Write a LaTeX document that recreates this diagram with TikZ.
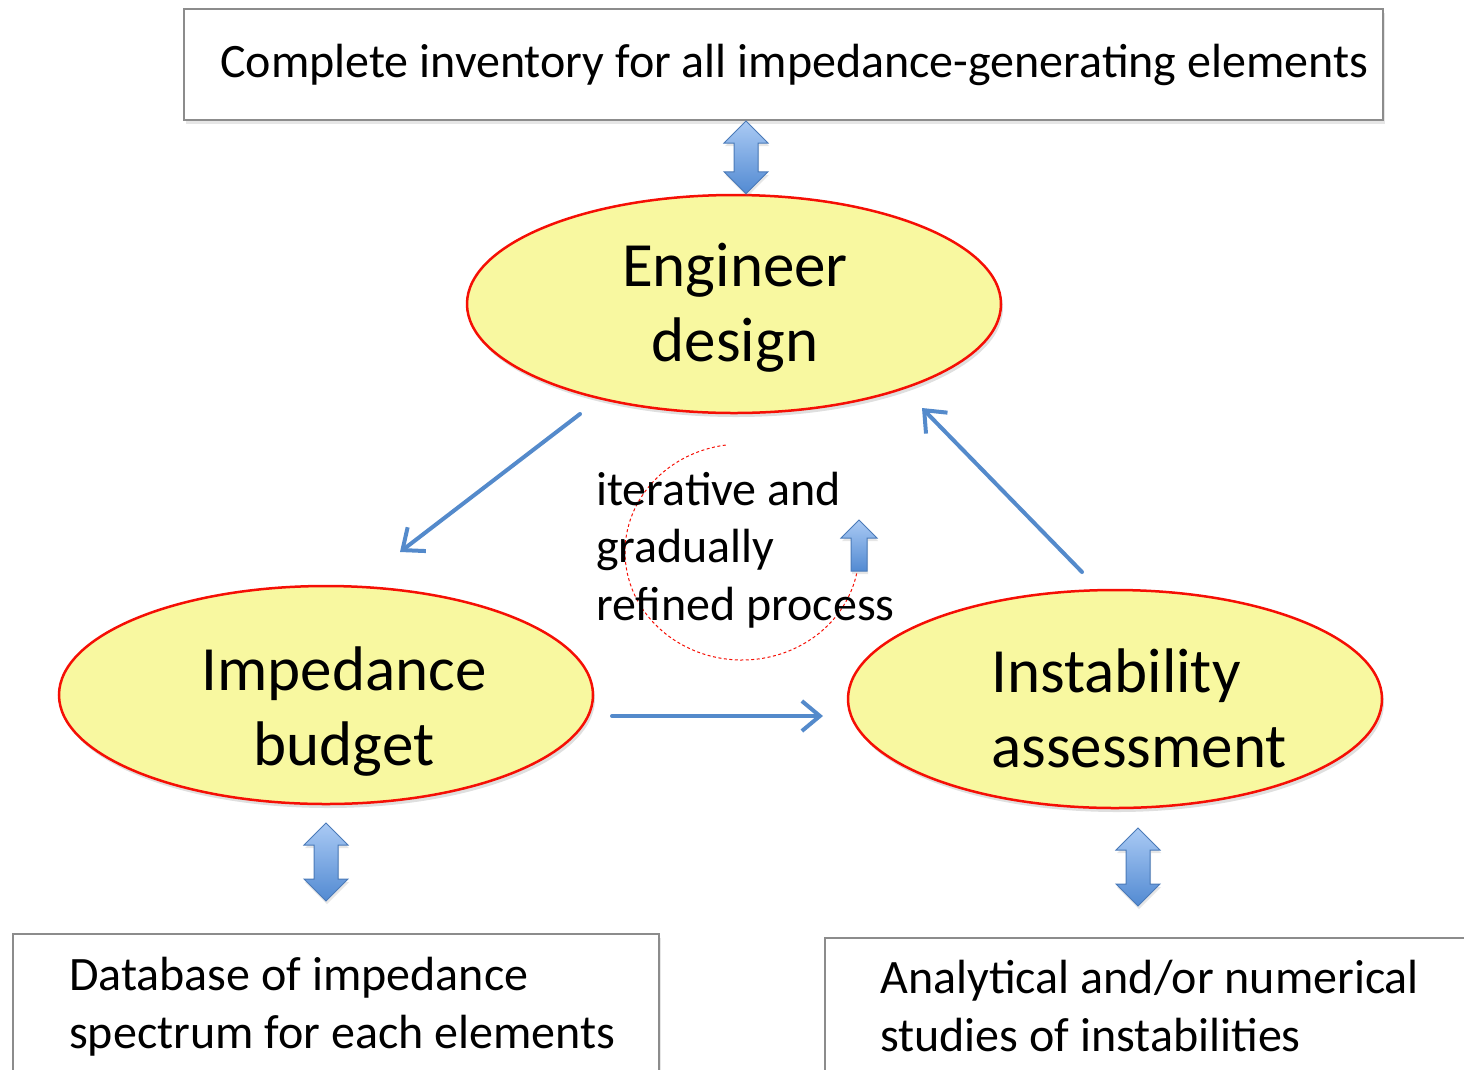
\documentclass[tikz,border=0pt]{standalone}
\usepackage{fontspec}
\setmainfont{Carlito}
\usetikzlibrary{calc,shadows,arrows.meta,shapes.geometric}
\definecolor{ellfill}{RGB}{248,248,160}
\definecolor{ellline}{RGB}{245,15,5}
\definecolor{boxline}{RGB}{140,140,140}
\definecolor{thinblue}{RGB}{84,138,203}
\definecolor{blktop}{RGB}{170,202,244}
\definecolor{blkbot}{RGB}{82,138,210}
\definecolor{blkline}{RGB}{74,122,184}
\newcommand\blkdbl[2]{%
  \draw[blk] let \p1=(#1), \p2=(#2) in
    (\x1,\y1) -- (\x1+22pt,\y1-22pt) -- (\x1+12pt,\y1-22pt) -- (\x1+12pt,\y2+22pt)
    -- (\x1+22pt,\y2+22pt) -- (\x1,\y2) -- (\x1-22pt,\y2+22pt) -- (\x1-12pt,\y2+22pt)
    -- (\x1-12pt,\y1-22pt) -- (\x1-22pt,\y1-22pt) -- cycle;}
\begin{document}
\begin{tikzpicture}[x=1pt,y=-1pt,
  ell/.style={ellipse,draw=ellline,line width=2.5pt,fill=ellfill,
    drop shadow={shadow xshift=2pt,shadow yshift=-4pt,opacity=.25},
    minimum width=534pt,minimum height=218pt,inner sep=0pt},
  rbox/.style={rectangle,draw=boxline,line width=2pt,fill=white,
    drop shadow={shadow xshift=2pt,shadow yshift=-4pt,opacity=.2},
    inner sep=0pt,anchor=north west},
  bigtxt/.style={font=\fontsize{63}{75}\selectfont,inner sep=0pt},
  midtxt/.style={font=\fontsize{48}{57.5}\selectfont,inner sep=0pt,align=left},
  thin/.style={draw=thinblue,line width=4pt,line cap=round,
    -{Straight Barb[length=18pt,width=30pt,line width=4pt]}},
  blk/.style={top color=blktop,bottom color=blkbot,draw=blkline,line width=1pt,
    drop shadow={shadow xshift=1pt,shadow yshift=-3pt,opacity=.2}},
]
\useasboundingbox (0,0) rectangle (1464,1069);

% boxes (anchor base = baseline of the last line)
\node[rbox,minimum width=1199pt,minimum height=111pt] (top) at (183,8) {};
\node[midtxt,anchor=base west] (toptxt) at (220,77) {Complete inventory for all impedance-generating elements};

\node[rbox,minimum width=646pt,minimum height=160pt] (dbbox) at (12,933) {};
\node[midtxt,anchor=base west] (dbtxt) at (69,1048) {Database of impedance\\spectrum for each elements};

\node[rbox,minimum width=660pt,minimum height=160pt] (anbox) at (824,937) {};
\node[midtxt,anchor=base west] (antxt) at (880,1051) {Analytical and/or numerical\\studies of instabilities};

% ellipses
\node[ell] (eng) at (734,304) {};
\node[ell] (imp) at (326,695) {};
\node[ell] (ins) at (1115,699) {};
\node[bigtxt,align=center,anchor=base] (engtxt) at (735,361) {Engineer\\design};
\node[bigtxt,align=center,anchor=base] (imptxt) at (344,765) {Impedance\\budget};
\node[bigtxt,align=left,anchor=base west] (instxt) at (991,767) {Instability\\assessment};

% dashed loop
\coordinate (cc) at (742,552);
\draw[ellline,dashed,dash pattern=on 3pt off 2.5pt,line width=1pt]
  (cc) ++(-98:117 and 108) arc[start angle=-98,end angle=-349,x radius=117,y radius=108];
\node[midtxt,anchor=base west] (itertxt) at (596,620) {iterative and\\gradually\\refined process};

% thin arrows
\coordinate (a1s) at (580,414);
\coordinate (a1e) at (400,552);
\coordinate (a2s) at (1082,572);
\coordinate (a2e) at (922,408);
\coordinate (a3s) at (612,716);
\coordinate (a3e) at (823,716);
\draw[thin] (a1s) -- (a1e);
\draw[thin] (a2s) -- (a2e);
\draw[thin] (a3s) -- (a3e);

% block double arrows
\coordinate (b1t) at (top.south -| 746,0);
\coordinate (b1b) at (eng.north -| 746,0);
\blkdbl{b1t}{b1b}
\coordinate (b2t) at (326,823);
\coordinate (b2b) at (326,901);
\blkdbl{b2t}{b2b}
\coordinate (b3t) at (1138,828);
\coordinate (b3b) at (1138,906);
\blkdbl{b3t}{b3b}

% small up arrow
\coordinate (sa) at (859,520);
\draw[blk] (sa) -- ++(18,18) -- ++(-10,0) -- ++(0,33) -- ++(-16,0) -- ++(0,-33) -- ++(-10,0) -- cycle;
\end{tikzpicture}
\end{document}
